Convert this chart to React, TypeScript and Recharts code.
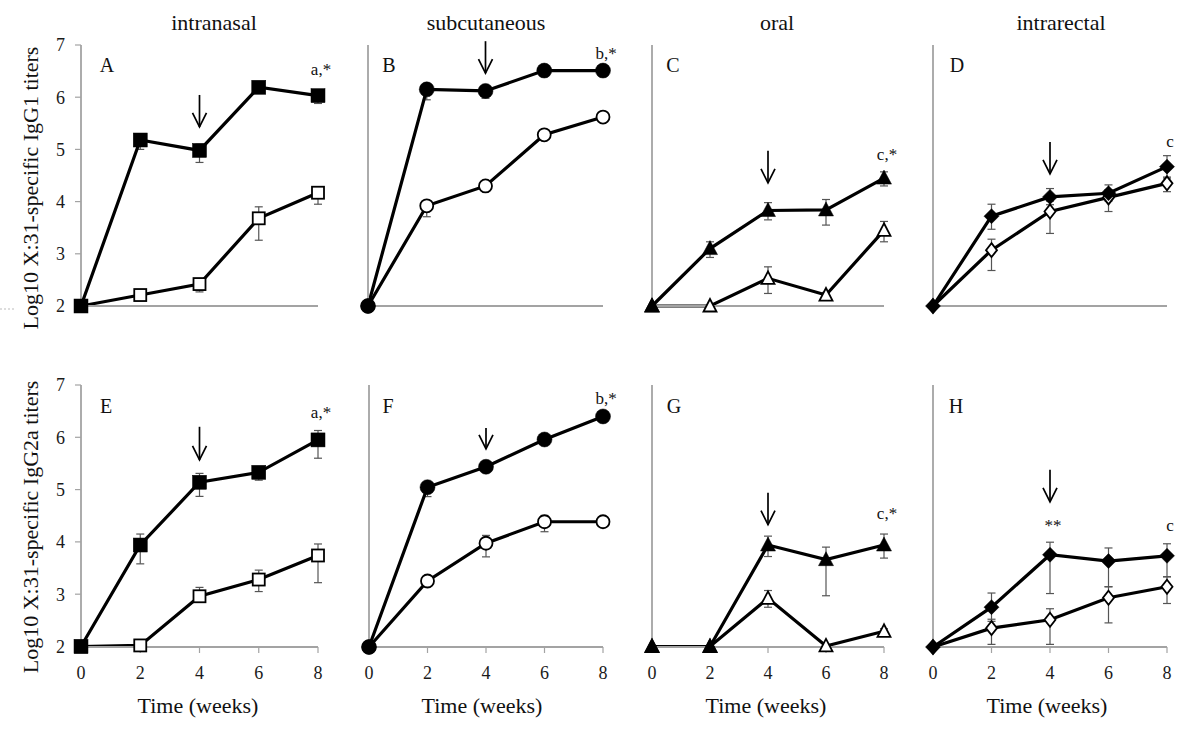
import React from 'react';
import { LineChart, Line, XAxis, YAxis, ErrorBar, ReferenceDot } from 'recharts';

const FONT = '"Liberation Serif", "Times New Roman", serif';
const AXIS_GRAY = '#a3a3a3';

const weeks = [0, 2, 4, 6, 8];
const yTicks = [2, 3, 4, 5, 6, 7];

const routes = ['intranasal', 'subcutaneous', 'oral', 'intrarectal'];
const isotypeLabels = ['Log10 X:31-specific IgG1 titers', 'Log10 X:31-specific IgG2a titers'];
const panelLetters = ['A', 'B', 'C', 'D', 'E', 'F', 'G', 'H'];
const xTitle = 'Time (weeks)';

// IgG1 — top row. Errors are [minus, plus] in log units, null where no bar.
const aFilled = [2, 5.18, 4.98, 6.19, 6.03];
const aFilledErr = [null, [0.18, 0.1], [0.23, 0.12], [0.05, 0.05], [0.15, 0.08]];
const aOpen = [2, 2.21, 2.42, 3.68, 4.17];
const aOpenErr = [null, [0.1, 0.06], [0.15, 0.06], [0.42, 0.22], [0.22, 0.1]];

const bFilled = [2, 6.15, 6.12, 6.51, 6.51];
const bFilledErr = [null, [0.2, 0.05], [0.14, 0.05], [0.04, 0.04], [0.04, 0.04]];
const bOpen = [2, 3.92, 4.3, 5.28, 5.62];
const bOpenErr = [null, [0.21, 0.05], [0.06, 0.06], [0.06, 0.06], [0.06, 0.06]];

const cFilled = [2, 3.1, 3.83, 3.84, 4.45];
const cFilledErr = [null, [0.17, 0.13], [0.18, 0.15], [0.29, 0.2], [0.15, 0.12]];
const cOpen = [2, 2.0, 2.53, 2.21, 3.45];
const cOpenErr = [null, null, [0.29, 0.22], [0.06, 0.05], [0.22, 0.17]];

const dFilled = [2, 3.72, 4.09, 4.16, 4.67];
const dFilledErr = [null, [0.25, 0.23], [0.15, 0.16], [0.15, 0.16], [0.2, 0.21]];
const dOpen = [2, 3.07, 3.81, 4.08, 4.35];
const dOpenErr = [null, [0.39, 0.21], [0.42, 0.2], [0.27, 0.15], [0.16, 0.1]];

// IgG2a — bottom row
const eFilled = [2, 3.94, 5.14, 5.33, 5.95];
const eFilledErr = [null, [0.36, 0.21], [0.27, 0.17], [0.15, 0.1], [0.35, 0.18]];
const eOpen = [2, 2.02, 2.96, 3.28, 3.74];
const eOpenErr = [null, [0.03, 0.03], [0.11, 0.17], [0.23, 0.18], [0.52, 0.22]];

const fFilled = [2, 5.05, 5.44, 5.96, 6.4];
const fFilledErr = [null, [0.18, 0.05], [0.05, 0.05], [0.05, 0.05], [0.05, 0.05]];
const fOpen = [2, 3.26, 3.98, 4.39, 4.39];
const fOpenErr = [null, [0.05, 0.05], [0.26, 0.15], [0.19, 0.12], [0.08, 0.08]];

const gFilled = [2, 2, 3.94, 3.66, 3.94];
const gFilledErr = [null, null, [0.22, 0.17], [0.69, 0.24], [0.25, 0.21]];
const gOpen = [2, 2, 2.92, 2.01, 2.29];
const gOpenErr = [null, null, [0.17, 0.15], [0.02, 0.02], [0.05, 0.05]];

const hFilled = [2, 2.76, 3.76, 3.64, 3.74];
const hFilledErr = [null, [0.27, 0.27], [0.74, 0.24], [0.49, 0.25], [0.4, 0.23]];
const hOpen = [2, 2.36, 2.52, 2.94, 3.15];
const hOpenErr = [null, [0.31, 0.17], [0.47, 0.21], [0.48, 0.21], [0.32, 0.19]];

// boost arrow (week 4) tip value and significance notes
const arrowTips = [5.43, 6.46, 4.36, 4.53, 5.57, 5.78, 4.33, 4.77];
const arrowLens = [32, 32, 32, 32, 33, 21, 32, 32];
const notesA = [{ week: 8, at: 6.43, text: 'a,*' }];
const notesB = [{ week: 8, at: 6.74, text: 'b,*' }];
const notesC = [{ week: 8, at: 4.8, text: 'c,*' }];
const notesD = [{ week: 8, at: 5.05, text: 'c' }];
const notesE = [{ week: 8, at: 6.37, text: 'a,*' }];
const notesF = [{ week: 8, at: 6.64, text: 'b,*' }];
const notesG = [{ week: 8, at: 4.44, text: 'c,*' }];
const notesH = [{ week: 4, at: 4.21, text: '**' }, { week: 8, at: 4.21, text: 'c' }];

const PAD_L = 50;
const PAD_R = 30;
const PAD_T = 20;
const PAD_B = 40;

const Marker = ({ cx, cy, shape, filled }: any) => {
  if (cx == null || cy == null) return null;
  const fill = filled ? '#000' : '#fff';
  const stroke = '#000';
  const sw = filled ? 0.5 : 1.8;
  if (shape === 'square') {
    const s = filled ? 7 : 6;
    return <rect x={cx - s} y={cy - s} width={s * 2} height={s * 2} fill={fill} stroke={stroke} strokeWidth={sw} />;
  }
  if (shape === 'circle') {
    return <circle cx={cx} cy={cy} r={filled ? 7.5 : 6.5} fill={fill} stroke={stroke} strokeWidth={sw} />;
  }
  if (shape === 'triangle') {
    const pts = filled
      ? `${cx},${cy - 8} ${cx - 7.5},${cy + 6} ${cx + 7.5},${cy + 6}`
      : `${cx},${cy - 7} ${cx - 6.5},${cy + 5.5} ${cx + 6.5},${cy + 5.5}`;
    return <polygon points={pts} fill={fill} stroke={stroke} strokeWidth={sw} />;
  }
  const hw = filled ? 7.5 : 5.5;
  const hh = filled ? 7.5 : 7;
  return (
    <polygon
      points={`${cx},${cy - hh} ${cx + hw},${cy} ${cx},${cy + hh} ${cx - hw},${cy}`}
      fill={fill}
      stroke={stroke}
      strokeWidth={sw}
    />
  );
};

const DownArrow = ({ cx, cy, len }: any) => (
  <g stroke="#000" strokeWidth={1.7} fill="none">
    <line x1={cx} y1={cy - len} x2={cx} y2={cy} />
    <polyline points={`${cx - 7},${cy - 14} ${cx},${cy} ${cx + 7},${cy - 14}`} />
  </g>
);

const panels = [
  { left: 81, right: 318, top: 45, bottom: 306, marker: 'square', filled: aFilled, filledErr: aFilledErr, open: aOpen, openErr: aOpenErr, notes: notesA },
  { left: 368, right: 603, top: 45, bottom: 306, marker: 'circle', filled: bFilled, filledErr: bFilledErr, open: bOpen, openErr: bOpenErr, notes: notesB },
  { left: 652, right: 884, top: 45, bottom: 306, marker: 'triangle', filled: cFilled, filledErr: cFilledErr, open: cOpen, openErr: cOpenErr, notes: notesC },
  { left: 933, right: 1167, top: 45, bottom: 306, marker: 'diamond', filled: dFilled, filledErr: dFilledErr, open: dOpen, openErr: dOpenErr, notes: notesD },
  { left: 81, right: 318, top: 385, bottom: 647, marker: 'square', filled: eFilled, filledErr: eFilledErr, open: eOpen, openErr: eOpenErr, notes: notesE },
  { left: 369, right: 603, top: 385, bottom: 647, marker: 'circle', filled: fFilled, filledErr: fFilledErr, open: fOpen, openErr: fOpenErr, notes: notesF },
  { left: 652, right: 884, top: 385, bottom: 647, marker: 'triangle', filled: gFilled, filledErr: gFilledErr, open: gOpen, openErr: gOpenErr, notes: notesG },
  { left: 933, right: 1167, top: 385, bottom: 647, marker: 'diamond', filled: hFilled, filledErr: hFilledErr, open: hOpen, openErr: hOpenErr, notes: notesH },
];

const Panel = ({ cfg, idx }: any) => {
  const data = weeks.map((w, i) => ({
    week: w,
    filled: cfg.filled[i],
    filledErr: cfg.filledErr[i],
    open: cfg.open[i],
    openErr: cfg.openErr[i],
  }));
  const width = cfg.right - cfg.left + PAD_L + PAD_R;
  const height = cfg.bottom - cfg.top + PAD_T + PAD_B;
  const bottomRow = idx >= 4;
  const firstCol = idx % 4 === 0;
  const tickStyle = { fontSize: 18, fill: '#1a1a1a', fontFamily: FONT };

  return (
    <div style={{ position: 'absolute', left: cfg.left - PAD_L, top: cfg.top - PAD_T }}>
      <LineChart width={width} height={height} data={data} margin={{ top: PAD_T, right: PAD_R, bottom: 0, left: 0 }}>
        <XAxis
          type="number"
          dataKey="week"
          domain={[0, 8]}
          ticks={weeks}
          interval={0}
          height={PAD_B}
          axisLine={{ stroke: AXIS_GRAY, strokeWidth: 1.8 }}
          tickLine={{ stroke: AXIS_GRAY, strokeWidth: 1.2 }}
          tickSize={6}
          tickMargin={13}
          tick={bottomRow ? tickStyle : false}
        />
        <YAxis
          type="number"
          domain={[2, 7]}
          ticks={yTicks}
          interval={0}
          width={PAD_L}
          axisLine={{ stroke: AXIS_GRAY, strokeWidth: 1.8 }}
          tickLine={{ stroke: AXIS_GRAY, strokeWidth: 1.2 }}
          tickSize={6}
          tickMargin={10}
          tick={firstCol ? tickStyle : false}
        />
        <Line
          type="linear"
          dataKey="open"
          stroke="#000"
          strokeWidth={3.2}
          isAnimationActive={false}
          activeDot={false}
          dot={(p: any) => <Marker key={`o-${p.index}`} cx={p.cx} cy={p.cy} shape={cfg.marker} filled={false} />}
        >
          <ErrorBar dataKey="openErr" direction="y" width={4} stroke="#555" strokeWidth={1.2} />
        </Line>
        <Line
          type="linear"
          dataKey="filled"
          stroke="#000"
          strokeWidth={3.2}
          isAnimationActive={false}
          activeDot={false}
          dot={(p: any) => <Marker key={`f-${p.index}`} cx={p.cx} cy={p.cy} shape={cfg.marker} filled />}
        >
          <ErrorBar dataKey="filledErr" direction="y" width={4} stroke="#555" strokeWidth={1.2} />
        </Line>
        <ReferenceDot
          x={4}
          y={arrowTips[idx]}
          shape={(p: any) => <DownArrow cx={p.cx} cy={p.cy} len={arrowLens[idx]} />}
        />
        {cfg.notes.map((n: any, k: number) => (
          <ReferenceDot
            key={k}
            x={n.week}
            y={n.at}
            shape={(p: any) => (
              <text x={p.cx + 3} y={p.cy} textAnchor="middle" fontSize={17} fontFamily={FONT} fill="#111">
                {n.text}
              </text>
            )}
          />
        ))}
      </LineChart>
    </div>
  );
};

const titleX = [214, 486, 777, 1061];
const xTitleX = [198, 482, 766, 1047];
const letterPos = [
  [107, 72], [389, 72], [673, 72], [957, 72],
  [106, 413], [388, 413], [674, 413], [956, 413],
];

export default function App() {
  return (
    <div style={{ position: 'absolute', left: 0, top: 0, width: 1200, height: 733, background: '#fff', overflow: 'hidden' }}>
      {panels.map((cfg, i) => (
        <Panel key={i} cfg={cfg} idx={i} />
      ))}
      <svg width={1200} height={733} style={{ position: 'absolute', left: 0, top: 0, pointerEvents: 'none' }}>
        <g fontFamily={FONT} fill="#111">
          {routes.map((r, i) => (
            <text key={r} x={titleX[i]} y={30} fontSize={22} textAnchor="middle">
              {r}
            </text>
          ))}
          {isotypeLabels.map((l, i) => (
            <text
              key={l}
              transform={`translate(38, ${i === 0 ? 188 : 527}) rotate(-90)`}
              fontSize={22}
              textAnchor="middle"
            >
              {l}
            </text>
          ))}
          {xTitleX.map((x, i) => (
            <text key={i} x={x} y={713} fontSize={22} textAnchor="middle">
              {xTitle}
            </text>
          ))}
          {panelLetters.map((c, i) => (
            <text key={c} x={letterPos[i][0]} y={letterPos[i][1]} fontSize={20} textAnchor="middle">
              {c}
            </text>
          ))}
        </g>
        <line x1={0} y1={309} x2={16} y2={309} stroke="#bbb" strokeWidth={1} strokeDasharray="2 2" />
      </svg>
    </div>
  );
}
